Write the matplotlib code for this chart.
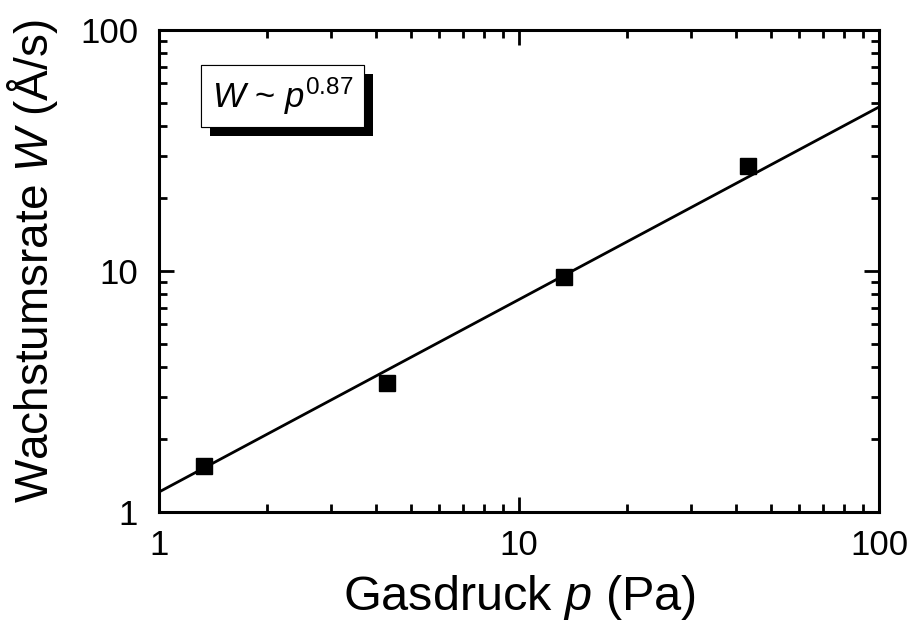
import matplotlib
matplotlib.use("Agg")
import matplotlib.pyplot as plt
import matplotlib.patheffects as pe
from matplotlib.ticker import LogLocator, NullFormatter, FixedFormatter, FixedLocator

plt.rcParams["font.family"] = ["Liberation Sans", "DejaVu Sans"]
plt.rcParams["mathtext.fontset"] = "custom"
plt.rcParams["mathtext.rm"] = "Liberation Sans"
plt.rcParams["mathtext.it"] = "Liberation Sans:italic"

# Messwerte: Gasdruck (Pa) und Wachstumsrate (Å/s)
druck = [1.33, 4.3, 13.3, 43.3]
rate = [1.55, 3.43, 9.44, 27.3]

# Anpassungsgerade (Endpunkte im Bereich 1..100 Pa)
fit_druck = [1, 100]
fit_rate = [1.21, 47.9]

fig = plt.figure(figsize=(9.12, 6.24), dpi=100)
ax = fig.add_axes([0.1743, 0.1795, 0.7895, 0.7725])

ax.plot(fit_druck, fit_rate, color="black", lw=2, zorder=2)
ax.plot(druck, rate, ls="none", marker="s", ms=11.5, color="black", zorder=3)

ax.set_xscale("log")
ax.set_yscale("log")
ax.set_xlim(1, 100)
ax.set_ylim(1, 100)

ax.xaxis.set_major_locator(FixedLocator([1, 10, 100]))
ax.yaxis.set_major_locator(FixedLocator([1, 10, 100]))
ax.xaxis.set_major_formatter(FixedFormatter(["1", "10", "100"]))
ax.yaxis.set_major_formatter(FixedFormatter(["1", "10", "100"]))
for axis in (ax.xaxis, ax.yaxis):
    axis.set_minor_locator(LogLocator(base=10, subs=range(2, 10)))
    axis.set_minor_formatter(NullFormatter())

ax.tick_params(which="both", direction="in", top=True, right=True,
               width=2, labelsize=25)
ax.tick_params(which="major", length=11)
ax.tick_params(which="minor", length=6)
ax.tick_params(axis="x", which="major", pad=12)
ax.tick_params(axis="y", which="major", pad=15)
for s in ax.spines.values():
    s.set_linewidth(2.2)

ax.set_xlabel("Gasdruck $p$ (Pa)", fontsize=35, labelpad=8)
ax.set_ylabel("Wachstumsrate $W$ (Å/s)", fontsize=33)
ax.yaxis.set_label_coords(-0.138, 0.52)

t = ax.text(0.1715, 0.863, r"$W$ ~ $p^{0.87}$", transform=ax.transAxes,
            fontsize=25, ha="center", va="center",
            bbox=dict(boxstyle="square,pad=0.3", fc="white", ec="black", lw=0.8))
t.get_bbox_patch().set_path_effects([
    pe.withSimplePatchShadow(offset=(6.5, -6.5), shadow_rgbFace="black", alpha=1),
    pe.Normal(),
])

fig.savefig("out.png", dpi=100)
